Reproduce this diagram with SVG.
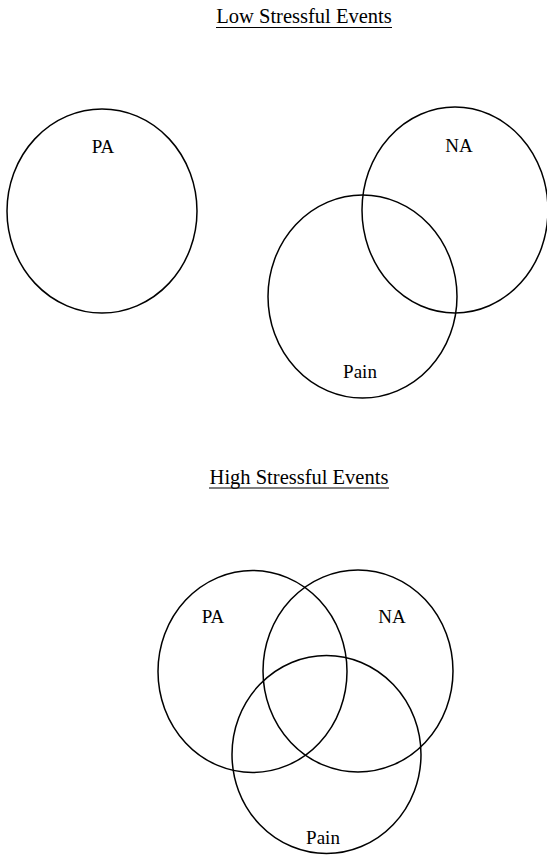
<svg xmlns="http://www.w3.org/2000/svg" width="547" height="856" viewBox="0 0 547 856">
<style>
.c{fill:none;stroke:#000;stroke-width:1.5}
.t{font-family:"Liberation Serif","Times New Roman",serif;font-size:19px;fill:#000;text-anchor:middle}
.h{font-family:"Liberation Serif","Times New Roman",serif;font-size:20.5px;fill:#000;text-anchor:middle}
.u{stroke:#000;stroke-width:1.2}
</style>
<rect width="547" height="856" fill="#fff"/>
<g id="title-low">
<text class="h" x="304" y="23">Low Stressful Events</text>
<line class="u" x1="216" y1="27.5" x2="392" y2="27.5"/>
</g>
<g id="low-PA">
<ellipse class="c" cx="102" cy="211" rx="95" ry="102"/>
<text class="t" x="103" y="153">PA</text>
</g>
<g id="low-NA">
<ellipse class="c" cx="455" cy="210" rx="93" ry="103"/>
<text class="t" x="459" y="152">NA</text>
</g>
<g id="low-Pain">
<ellipse class="c" cx="362.5" cy="296.5" rx="94.5" ry="101.5"/>
<text class="t" x="360" y="378">Pain</text>
</g>
<g id="title-high">
<text class="h" x="299" y="484">High Stressful Events</text>
<line class="u" x1="209" y1="488" x2="389" y2="488"/>
</g>
<g id="high-PA">
<ellipse class="c" cx="252.5" cy="671.5" rx="94.5" ry="101"/>
<text class="t" x="213" y="623">PA</text>
</g>
<g id="high-NA">
<ellipse class="c" cx="358" cy="671" rx="95" ry="101"/>
<text class="t" x="392" y="623">NA</text>
</g>
<g id="high-Pain">
<ellipse class="c" cx="326.5" cy="754.5" rx="94.5" ry="99"/>
<text class="t" x="323" y="844">Pain</text>
</g>
<g id="connectors"></g>
</svg>
